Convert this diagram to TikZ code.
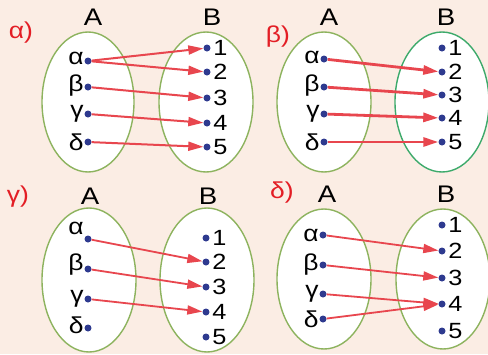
\documentclass[tikz,border=0pt]{standalone}
\usepackage{fontspec}
\setmainfont{Liberation Sans}[FakeStretch=1.15]
\usetikzlibrary{arrows.meta}
\definecolor{bgpeach}{HTML}{FBEDE4}
\definecolor{setgreen}{HTML}{8DB35E}
\definecolor{setteal}{HTML}{3DAA6B}
\definecolor{arrred}{HTML}{E8464E}
\definecolor{tagred}{HTML}{E31E25}
\definecolor{dotblue}{HTML}{2E3A8F}

\begin{document}
\begin{tikzpicture}[x=1pt,y=-1pt,
  setA/.style={draw=setgreen,fill=white,line width=1.4pt},
  pt/.style={circle,fill=dotblue,inner sep=0pt,minimum size=7pt},
  arr/.style={arrred,line width=2pt,-{Triangle[length=15pt,width=9pt]}},
  elem/.style={font=\fontsize{23}{23}\selectfont,inner sep=0.5pt},
  num/.style={font=\fontsize{22}{22}\selectfont,inner sep=2.5pt},
  setname/.style={font=\fontsize{24}{24}\selectfont},
  tag/.style={tagred,font=\fontsize{23}{23}\selectfont}]
  \fill[bgpeach] (0,0) rectangle (488,354);
  \useasboundingbox (0,0) rectangle (488,354);

  % alpha
  \node[tag] (tagal) at (21,33) {α)};
  \node[setname] (nal) at (93,17) {A};
  \node[setname] (mal) at (212,17) {B};
  \draw[setA] (88,102) ellipse [x radius=46,y radius=70];
  \draw[setA] (206,102) ellipse [x radius=47,y radius=70];
  \foreach \y/\n/\s [count=\i] in {61/α/3,87/β/1,114/γ/0,142/δ/0}
    \node[pt,label={[elem,yshift=\s pt]left:\n}] (alx\i) at (88,\y) {};
  \foreach \y [count=\i] in {48,72,98,123,147}
    \node[pt,label={[num]right:\i}] (aly\i) at (207,\y) {};
  \draw[arr] (alx1) -- (aly1);
  \draw[arr] (alx1) -- (aly2);
  \draw[arr] (alx2) -- (aly3);
  \draw[arr] (alx3) -- (aly4);
  \draw[arr] (alx4) -- (aly5);

  % beta
  \node[tag] (tagbe) at (278,37) {β)};
  \node[setname] (nbe) at (329,17) {A};
  \node[setname] (mbe) at (446,17) {B};
  \draw[setA] (324,102) ellipse [x radius=47,y radius=70];
  \draw[setA,draw=setteal] (442,102) ellipse [x radius=47,y radius=70];
  \foreach \y/\n/\s [count=\i] in {59/α/2,87/β/1,114/γ/0,142/δ/0}
    \node[pt,label={[elem,yshift=\s pt]left:\n}] (bex\i) at (324,\y) {};
  \foreach \y [count=\i] in {48,72,95,118,142}
    \node[pt,label={[num]right:\i}] (bey\i) at (442,\y) {};
  \draw[arr,line width=2.8pt] (bex1) -- (bey2);
  \draw[arr,line width=2.8pt] (bex2) -- (bey3);
  \draw[arr,line width=2.8pt] (bex3) -- (bey4);
  \draw[arr,line width=2.8pt] (bex4) -- (bey5);

  % gamma
  \node[tag] (tagga) at (18,197) {γ)};
  \node[setname] (nga) at (90,196) {A};
  \node[setname] (mga) at (208,196) {B};
  \draw[setA] (89,280) ellipse [x radius=47,y radius=72];
  \draw[setA] (207,280) ellipse [x radius=47,y radius=72];
  \foreach \y/\n/\s [count=\i] in {239/α/11,269/β/4,299/γ/0,328/δ/3}
    \node[pt,label={[elem,yshift=\s pt]left:\n}] (gax\i) at (88,\y) {};
  \foreach \y [count=\i] in {238,262,287,312,337}
    \node[pt,label={[num]right:\i}] (gay\i) at (206,\y) {};
  \draw[arr,line width=1.8pt] (gax1) -- (gay2);
  \draw[arr,line width=1.8pt] (gax2) -- (gay3);
  \draw[arr,line width=1.8pt] (gax3) -- (gay4);

  % delta
  \node[tag] (tagde) at (282,193) {δ)};
  \node[setname] (nde) at (327,194) {A};
  \node[setname] (mde) at (446,194) {B};
  \draw[setA] (324,279) ellipse [x radius=47,y radius=70];
  \draw[setA] (443,279) ellipse [x radius=47,y radius=70];
  \foreach \y/\n [count=\i] in {235/α,265/β,294/γ,319/δ}
    \node[pt,label={[elem]left:\n}] (dex\i) at (323,\y) {};
  \foreach \y [count=\i] in {225,251,278,304,331}
    \node[pt,label={[num]right:\i}] (dey\i) at (442,\y) {};
  \draw[arr,line width=1.8pt] (dex1) -- (dey2);
  \draw[arr,line width=1.8pt] (dex2) -- (dey3);
  \draw[arr,line width=1.8pt] (dex3) -- (dey4);
  \draw[arr,line width=1.8pt] (dex4) -- (dey4);
\end{tikzpicture}
\end{document}
